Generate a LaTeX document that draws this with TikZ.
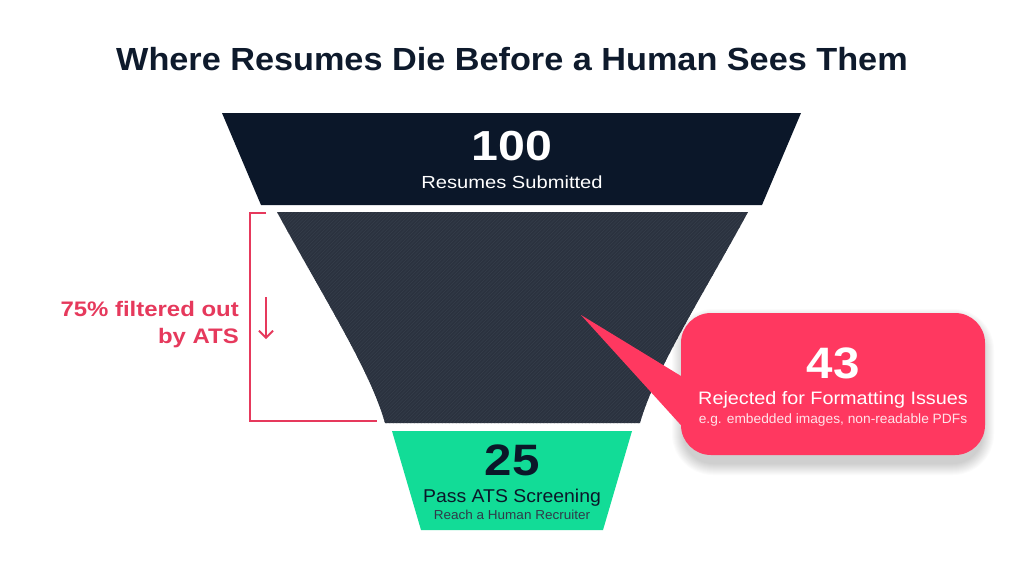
\documentclass[tikz,border=0pt]{standalone}
\usepackage{fontspec}
\setmainfont{Liberation Sans}
\usetikzlibrary{arrows.meta}
\definecolor{navy}{HTML}{0B1729}
\definecolor{slate}{HTML}{2B323F}
\definecolor{slateline}{HTML}{353D4A}
\definecolor{mint}{HTML}{12DC97}
\definecolor{coral}{HTML}{FF3860}
\definecolor{coraltext}{HTML}{E6395C}
\definecolor{titlecol}{HTML}{0E1A2C}
\definecolor{softwhite}{HTML}{FFE3E9}
\newcommand{\sx}[2]{\scalebox{#1}[1]{#2}}
\begin{document}
\begin{tikzpicture}[x=1pt,y=-1pt,
  bignum/.style={anchor=base, font=\fontsize{#1}{#1}\selectfont\bfseries},
  label/.style={anchor=base, font=\fontsize{#1}{#1}\selectfont},
  bracketline/.style={draw=coraltext, line width=2pt},
  redlabel/.style={anchor=base east, font=\fontsize{21}{21}\selectfont\bfseries, text=coraltext, inner sep=0pt},
]
\fill[white] (0,0) rectangle (1024,571);
\useasboundingbox (0,0) rectangle (1024,571);

% title
\node[bignum=32, text=titlecol] (title) at (512,70) {\sx{1.07}{Where Resumes Die Before a Human Sees Them}};

% top stage
\fill[navy] (222,113) -- (801,113) -- (762,205) -- (261,205) -- cycle;
\node[bignum=42, text=white] (n100) at (512,160) {\sx{1.15}{100}};
\node[label=17.5, text=white] (t100) at (512,188) {\sx{1.15}{Resumes Submitted}};

% middle stage
\def\midpath{(277,212) -- (748,212) .. controls (700,300) and (655,370) .. (640,423) -- (385,423) .. controls (370,370) and (325,300) .. (277,212) -- cycle}
\fill[slate] \midpath;
\begin{scope}
  \clip \midpath;
  \foreach \a in {40,43.5,...,760} \draw[slateline, line width=0.6pt] (\a,430) -- (\a+220,210);
\end{scope}

% bottom stage
\fill[mint] (392,431) -- (632,431) -- (603,530) -- (421,530) -- cycle;
\node[bignum=44, text=navy] (n25) at (512,475) {\sx{1.12}{25}};
\node[label=18.5, text=navy] (t25) at (512,502) {\sx{1.05}{Pass ATS Screening}};
\node[label=13, text=navy!85] (s25) at (512,519) {\sx{1.04}{Reach a Human Recruiter}};

% bracket
\coordinate (bt) at (266,213);
\coordinate (bc1) at (250,213);
\coordinate (bc2) at (250,421);
\coordinate (bb) at (377,421);
\draw[bracketline] (bt) -- (bc1) -- (bc2) -- (bb);
\coordinate (at) at (266,297);
\coordinate (ab) at (266,339);
\draw[draw=coraltext, line width=1.8pt, -{Straight Barb[length=7pt,width=14pt]}] (at) -- (ab);
\node[redlabel] (f1) at (239,316) {\sx{1.14}{75\% filtered out}};
\node[redlabel] (f2) at (239,343) {\sx{1.14}{by ATS}};

% callout shadow
\foreach \k in {0,...,11}
  \fill[black, opacity=0.016, rounded corners={30pt+\k pt}] (683-\k,320-\k) rectangle (983+\k,464+\k);
% callout
\node[fill=coral, rounded corners=30pt, minimum width=304pt, minimum height=142pt, inner sep=0pt] (callout) at (833,384) {};
\fill[coral] (581,315) -- ([yshift=-41pt]callout.west) -- ([yshift=2pt,xshift=10pt]callout.west) -- cycle;
\node[bignum=44, text=white] (n43) at (833,378) {\sx{1.08}{43}};
\node[label=18, text=white] (t43) at (833,404) {\sx{1.1}{Rejected for Formatting Issues}};
\node[label=13.5, text=softwhite] (s43) at (833,423) {\sx{1.02}{e.g. embedded images, non-readable PDFs}};
\end{tikzpicture}
\end{document}
